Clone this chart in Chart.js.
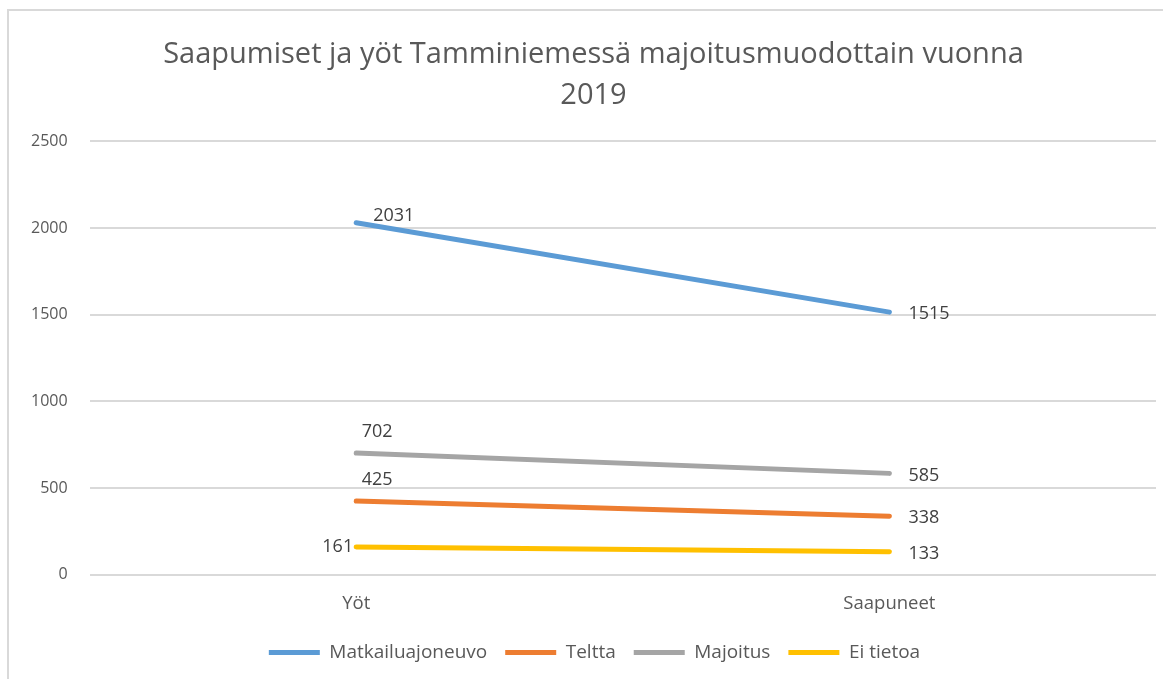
<!DOCTYPE html>
<html>
<head>
<meta charset="utf-8">
<script src="https://cdn.jsdelivr.net/npm/chart.js@4"></script>
<style>
  html, body { margin: 0; padding: 0; background: #fff; }
  #wrap {
    position: absolute; left: 7px; top: 9px;
    width: 1160px; height: 674px;
    border-left: 2px solid #d9d9d9; border-top: 2px solid #d9d9d9;
    overflow: hidden;
  }
  canvas { display: block; }
</style>
</head>
<body>
<div id="wrap"><canvas id="chart" width="1154" height="670"></canvas></div>
<script>
const categories = ['Yöt', 'Saapuneet'];
const matkailuajoneuvo = [2031, 1515];
const teltta = [425, 338];
const majoitus = [702, 585];
const eiTietoa = [161, 133];
const yTicks = [0, 500, 1000, 1500, 2000, 2500];

// where each value label sits relative to its point
const labelPlacement = {
    'Matkailuajoneuvo': ['right-up', 'right'],
    'Teltta': ['above', 'right'],
    'Majoitus': ['above', 'right'],
    'Ei tietoa': ['left', 'right']
};

const font = "'Open Sans', sans-serif";

const valueLabels = {
    id: 'valueLabels',
    afterDatasetsDraw(chart) {
        const ctx = chart.ctx;
        ctx.save();
        ctx.font = '18px ' + font;
        ctx.fillStyle = '#404040';
        ctx.textBaseline = 'middle';
        chart.data.datasets.forEach((ds, di) => {
            const meta = chart.getDatasetMeta(di);
            meta.data.forEach((pt, i) => {
                const place = labelPlacement[ds.label][i];
                let x = pt.x, y = pt.y;
                if (place === 'right') { ctx.textAlign = 'left'; x += 19; y += 2; }
                else if (place === 'right-up') { ctx.textAlign = 'left'; x += 17; y -= 7; }
                else if (place === 'above') { ctx.textAlign = 'center'; x += 21; y -= 21; }
                else if (place === 'left') { ctx.textAlign = 'right'; x -= 3; }
                ctx.fillText(ds.data[i], x, y);
            });
        });
        ctx.restore();
    }
};

// the title and legend sit a little right of the canvas centre, like in the source
const nudgeCentre = {
    id: 'nudgeCentre',
    afterLayout(chart) {
        chart.titleBlock.right += 22;
        chart.legend.right += 24;
    }
};

new Chart(document.getElementById('chart'), {
    type: 'line',
    data: {
        labels: categories,
        datasets: [
            { label: 'Matkailuajoneuvo', data: matkailuajoneuvo, borderColor: '#5b9bd5', backgroundColor: '#5b9bd5', borderWidth: 5 },
            { label: 'Teltta', data: teltta, borderColor: '#ed7d31', backgroundColor: '#ed7d31', borderWidth: 5 },
            { label: 'Majoitus', data: majoitus, borderColor: '#a5a5a5', backgroundColor: '#a5a5a5', borderWidth: 5 },
            { label: 'Ei tietoa', data: eiTietoa, borderColor: '#ffc000', backgroundColor: '#ffc000', borderWidth: 5 }
        ]
    },
    options: {
        responsive: false,
        animation: false,
        elements: {
            line: { borderCapStyle: 'round', tension: 0 },
            point: { radius: 0, hoverRadius: 0 }
        },
        layout: { padding: { left: 0, right: 7, top: 14, bottom: 9 } },
        plugins: {
            title: {
                display: true,
                text: ['Saapumiset ja yöt Tamminiemessä majoitusmuodottain vuonna', '2019'],
                color: '#595959',
                font: { family: font, size: 29, weight: 'normal', lineHeight: 1.42 },
                padding: { top: 9, bottom: 25 }
            },
            legend: {
                position: 'bottom',
                labels: {
                    usePointStyle: true,
                    pointStyle: 'line',
                    pointStyleWidth: 51,
                    color: '#595959',
                    font: { family: font, size: 19 },
                    padding: 18
                }
            },
            tooltip: { enabled: false }
        },
        scales: {
            x: {
                offset: true,
                grid: { display: false },
                border: { display: false },
                ticks: { color: '#595959', font: { family: font, size: 18.5 }, padding: 10 }
            },
            y: {
                min: 0,
                max: 2500,
                afterBuildTicks(axis) { axis.ticks = yTicks.map(v => ({ value: v })); },
                grid: { color: '#d9d9d9', lineWidth: 2, drawTicks: false },
                border: { display: false },
                ticks: { color: '#595959', font: { family: font, size: 16 }, padding: 22, callback: v => String(v) }
            }
        }
    },
    plugins: [valueLabels, nudgeCentre]
});
</script>
</body>
</html>
